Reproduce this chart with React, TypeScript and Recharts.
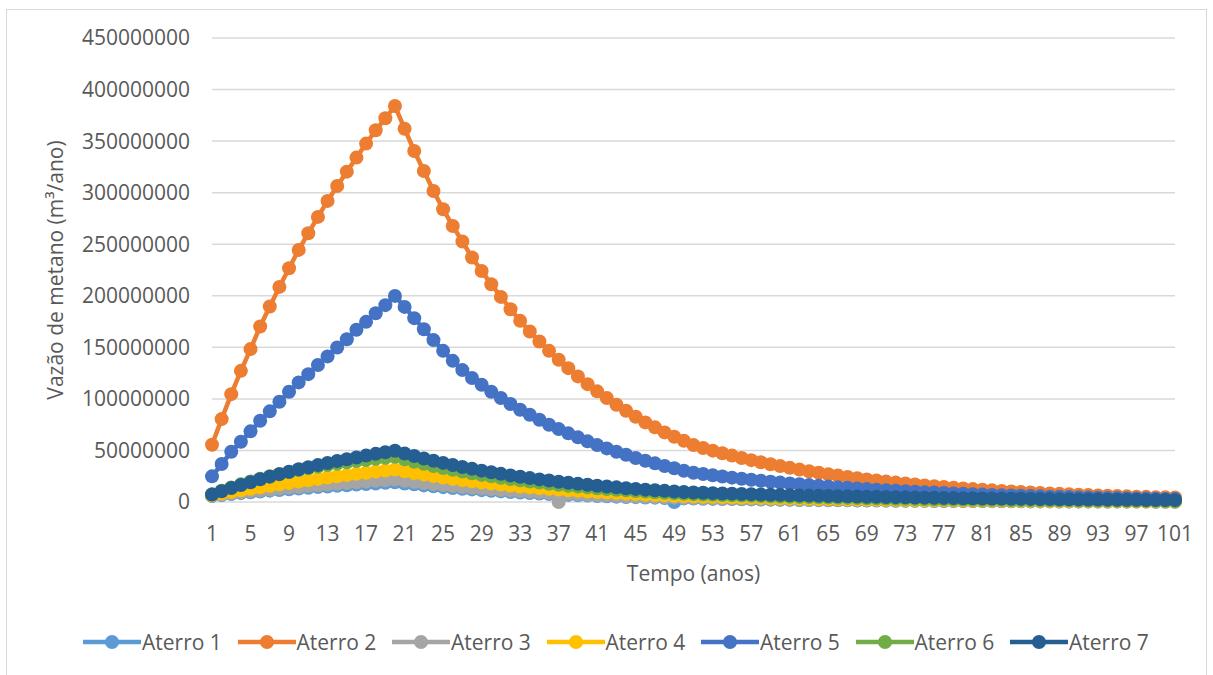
import React from 'react'
import { LineChart, Line, XAxis, YAxis, CartesianGrid, Legend } from 'recharts'

// Vazão de metano por aterro, valores em milhões de m³/ano
const anos = Array.from({ length: 101 }, (_, i) => i + 1)

const aterro1 = [
  5.8, 6.8, 7.7, 8.6, 9.4, 10.2, 11.0, 11.7, 12.4, 13.1,
  13.8, 14.5, 15.1, 15.7, 16.3, 16.9, 17.5, 18.0, 18.6, 19.1,
  18.0, 17.1, 16.1, 15.2, 14.4, 13.6, 12.9, 12.2, 11.5, 10.9,
  10.3, 9.7, 9.2, 8.7, 8.2, 7.7, 7.3, 6.9, 6.5, 6.2,
  5.8, 5.5, 5.2, 4.9, 4.7, 4.4, 4.2, 3.9, 0, 3.5,
  3.3, 3.2, 3.0, 2.9, 2.8, 2.6, 2.5, 2.4, 2.3, 2.2,
  2.1, 2.0, 1.9, 1.8, 1.7, 1.6, 1.6, 1.5, 1.4, 1.4,
  1.3, 1.2, 1.2, 1.1, 1.1, 1.0, 1.0, 0.9, 0.9, 0.9,
  0.8, 0.8, 0.7, 0.7, 0.7, 0.6, 0.6, 0.6, 0.5, 0.5,
  0.5, 0.5, 0.5, 0.4, 0.4, 0.4, 0.4, 0.4, 0.3, 0.3,
  0.3,
]

const aterro2 = [
  55.5, 80.4, 104.6, 127.2, 148.3, 170.2, 189.6, 208.6, 226.7, 244.5,
  260.7, 276.5, 292.0, 306.5, 320.4, 334.0, 347.6, 360.5, 372.1, 384.0,
  362.0, 340.4, 321.0, 301.6, 283.9, 267.7, 252.6, 237.1, 224.1, 211.2,
  198.9, 187.0, 175.7, 165.4, 155.7, 146.6, 137.9, 129.8, 121.8, 114.3,
  107.3, 100.8, 94.3, 88.5, 82.7, 77.2, 72.4, 67.5, 63.3, 59.4,
  55.2, 52.4, 49.8, 47.3, 45.0, 42.7, 40.6, 38.5, 36.6, 34.8,
  33.1, 31.4, 29.8, 28.3, 26.9, 25.6, 24.3, 23.1, 21.9, 20.8,
  19.8, 18.8, 17.9, 17.0, 16.1, 15.3, 14.6, 13.8, 13.1, 12.5,
  11.9, 11.3, 10.7, 10.2, 9.7, 9.2, 8.7, 8.3, 7.9, 7.5,
  7.1, 6.8, 6.4, 6.1, 5.8, 5.5, 5.2, 5.0, 4.7, 4.5,
  4.3,
]

const aterro3 = [
  6.2, 7.3, 8.3, 9.3, 10.3, 11.2, 12.1, 13.0, 13.8, 14.6,
  15.4, 16.2, 17.0, 17.7, 18.4, 19.1, 19.8, 20.5, 21.1, 21.7,
  20.5, 19.4, 18.3, 17.3, 16.4, 15.5, 14.6, 13.8, 13.1, 12.4,
  11.7, 11.0, 10.4, 9.9, 9.3, 8.8, 0, 7.9, 7.4, 7.0,
  6.6, 6.3, 5.9, 5.6, 5.3, 5.0, 4.7, 4.5, 4.2, 4.0,
  3.8, 3.6, 3.5, 3.3, 3.2, 3.0, 2.9, 2.7, 2.6, 2.5,
  2.4, 2.3, 2.2, 2.1, 2.0, 1.9, 1.8, 1.7, 1.6, 1.6,
  1.5, 1.4, 1.4, 1.3, 1.2, 1.2, 1.1, 1.1, 1.0, 1.0,
  0.9, 0.9, 0.9, 0.8, 0.8, 0.7, 0.7, 0.7, 0.6, 0.6,
  0.6, 0.6, 0.5, 0.5, 0.5, 0.5, 0.4, 0.4, 0.4, 0.4,
  0.4,
]

const aterro4 = [
  6.6, 8.2, 9.8, 11.3, 12.8, 14.3, 15.7, 17.1, 18.5, 19.8,
  21.1, 22.4, 23.7, 24.9, 26.1, 27.3, 28.4, 29.5, 30.5, 31.5,
  29.8, 28.1, 26.6, 25.1, 23.8, 22.5, 21.2, 20.1, 19.0, 17.9,
  16.9, 16.0, 15.1, 14.3, 13.5, 12.8, 12.1, 11.4, 10.8, 10.2,
  9.6, 9.1, 8.6, 8.1, 7.7, 7.2, 6.8, 6.5, 6.1, 5.8,
  5.5, 5.2, 5.0, 4.8, 4.6, 4.4, 4.2, 4.0, 3.8, 3.6,
  3.5, 3.3, 3.2, 3.0, 2.9, 2.8, 2.6, 2.5, 2.4, 2.3,
  2.2, 2.1, 2.0, 1.9, 1.8, 1.7, 1.7, 1.6, 1.5, 1.5,
  1.4, 1.3, 1.3, 1.2, 1.2, 1.1, 1.1, 1.0, 1.0, 0.9,
  0.9, 0.8, 0.8, 0.8, 0.7, 0.7, 0.7, 0.6, 0.6, 0.6,
  0.5,
]

const aterro5 = [
  24.9, 36.8, 48.7, 58.4, 68.5, 78.8, 87.9, 97.2, 106.9, 116.0,
  124.0, 132.8, 141.2, 149.9, 157.9, 167.0, 174.7, 183.1, 190.9, 199.9,
  189.2, 178.3, 167.6, 157.0, 146.6, 136.9, 127.9, 120.2, 113.7, 106.9,
  100.8, 95.0, 89.4, 84.6, 79.7, 74.9, 70.7, 66.6, 62.7, 58.8,
  55.2, 52.0, 48.7, 45.8, 42.6, 40.0, 37.5, 34.9, 32.7, 30.3,
  28.4, 27.1, 25.9, 24.8, 23.6, 22.6, 21.6, 20.6, 19.7, 18.8,
  18.0, 17.2, 16.4, 15.7, 15.0, 14.3, 13.7, 13.1, 12.5, 11.9,
  11.4, 10.9, 10.4, 9.9, 9.5, 9.1, 8.7, 8.3, 7.9, 7.6,
  7.2, 6.9, 6.6, 6.3, 6.0, 5.7, 5.5, 5.2, 5.0, 4.8,
  4.6, 4.4, 4.2, 4.0, 3.8, 3.6, 3.5, 3.3, 3.2, 3.0,
  2.9,
]

const aterro6 = [
  7.5, 10.9, 14.1, 17.1, 19.9, 22.5, 24.9, 27.1, 29.1, 31.0,
  32.7, 34.3, 35.8, 37.2, 38.5, 39.7, 40.8, 41.9, 42.9, 43.8,
  41.4, 39.1, 37.0, 34.9, 33.0, 31.2, 29.5, 27.9, 26.3, 24.9,
  23.5, 22.2, 21.0, 19.9, 18.8, 17.7, 16.8, 15.8, 15.0, 14.2,
  13.4, 12.6, 11.9, 11.3, 10.7, 10.1, 9.5, 9.0, 8.5, 8.0,
  7.6, 7.3, 7.0, 6.7, 6.5, 6.2, 6.0, 5.7, 5.5, 5.3,
  5.1, 4.9, 4.7, 4.5, 4.3, 4.1, 4.0, 3.8, 3.7, 3.5,
  3.4, 3.2, 3.1, 3.0, 2.9, 2.7, 2.6, 2.5, 2.4, 2.3,
  2.2, 2.1, 2.1, 2.0, 1.9, 1.8, 1.8, 1.7, 1.6, 1.6,
  1.5, 1.4, 1.4, 1.3, 1.3, 1.2, 1.2, 1.1, 1.1, 1.0,
  1.0,
]

const aterro7 = [
  7.2, 10.4, 13.5, 16.4, 19.2, 22.0, 24.6, 27.0, 29.3, 31.7,
  33.7, 35.8, 37.8, 39.7, 41.5, 43.2, 45.0, 46.7, 48.2, 49.7,
  47.1, 44.6, 42.2, 40.0, 37.9, 35.9, 34.0, 32.2, 30.4, 28.8,
  27.3, 25.8, 24.5, 23.2, 21.9, 20.8, 19.7, 18.6, 17.6, 16.7,
  15.8, 15.0, 14.2, 13.4, 12.7, 12.0, 11.4, 10.8, 10.2, 9.7,
  9.2, 8.9, 8.6, 8.3, 8.1, 7.8, 7.6, 7.3, 7.1, 6.9,
  6.6, 6.4, 6.2, 6.0, 5.8, 5.6, 5.5, 5.3, 5.1, 5.0,
  4.8, 4.7, 4.5, 4.4, 4.2, 4.1, 4.0, 3.8, 3.7, 3.6,
  3.5, 3.4, 3.3, 3.2, 3.1, 3.0, 2.9, 2.8, 2.7, 2.6,
  2.5, 2.4, 2.4, 2.3, 2.2, 2.1, 2.1, 2.0, 1.9, 1.9,
  1.8,
]

const yTicks = [0, 50000000, 100000000, 150000000, 200000000, 250000000, 300000000, 350000000, 400000000, 450000000]

const SERIES = [
  { key: 'a1', name: 'Aterro 1', color: '#5B9BD5', values: aterro1 },
  { key: 'a2', name: 'Aterro 2', color: '#ED7D31', values: aterro2 },
  { key: 'a3', name: 'Aterro 3', color: '#A5A5A5', values: aterro3 },
  { key: 'a4', name: 'Aterro 4', color: '#FFC000', values: aterro4 },
  { key: 'a5', name: 'Aterro 5', color: '#4472C4', values: aterro5 },
  { key: 'a6', name: 'Aterro 6', color: '#70AD47', values: aterro6 },
  { key: 'a7', name: 'Aterro 7', color: '#255E91', values: aterro7 },
]

const data = anos.map((t, i) => {
  const row: Record<string, number> = { t }
  for (const s of SERIES) row[s.key] = s.values[i] * 1e6
  return row
})

const FONT = '"Open Sans", sans-serif'
const TEXT = '#595959'
const DOT_R = 7

function renderLegend() {
  return (
    <div style={{ display: 'flex', paddingLeft: 83, fontFamily: FONT, fontSize: 21, color: TEXT, lineHeight: '28px' }}>
      {SERIES.map(s => (
        <div key={s.key} style={{ width: 154.5, display: 'flex', alignItems: 'center' }}>
          <svg width={58} height={16} style={{ marginRight: 1 }}>
            <line x1={0} x2={58} y1={8} y2={8} stroke={s.color} strokeWidth={4.5} />
            <circle cx={29} cy={8} r={DOT_R} fill={s.color} />
          </svg>
          <span>{s.name}</span>
        </div>
      ))}
    </div>
  )
}

export default function App() {
  return (
    <div style={{ position: 'absolute', left: 0, top: 0, width: 1213, height: 675, overflow: 'hidden', background: '#fff' }}>
      <div style={{ position: 'absolute', left: 6, top: 9, width: 1201, height: 700, border: '1px solid #d9d9d9', boxSizing: 'border-box' }} />
      <LineChart
        width={1213}
        height={675}
        data={data}
        margin={{ top: 38, right: 38, left: 0, bottom: 83 }}
        style={{ fontFamily: FONT }}
      >
        <CartesianGrid vertical={false} stroke="#d9d9d9" strokeWidth={1.5} />
        <XAxis
          dataKey="t"
          type="category"
          interval={3}
          height={90}
          axisLine={false}
          tickLine={false}
          tickSize={0}
          tickMargin={24}
          tick={{ fontSize: 21, fill: TEXT }}
          label={{ value: 'Tempo (anos)', position: 'insideBottom', offset: 11, fontSize: 21, fill: TEXT }}
        />
        <YAxis
          width={212}
          domain={[0, 450000000]}
          ticks={yTicks}
          interval={0}
          axisLine={false}
          tickLine={false}
          tickSize={0}
          tickMargin={22}
          tick={{ fontSize: 21, fill: TEXT }}
          label={{
            value: 'Vazão de metano (m³/ano)',
            angle: -90,
            position: 'insideLeft',
            offset: 56,
            fontSize: 21,
            fill: TEXT,
            style: { textAnchor: 'middle' },
          }}
        />
        <Legend
          layout="horizontal"
          verticalAlign="middle"
          align="center"
          content={renderLegend}
          wrapperStyle={{ top: 628, left: 0, width: 1213 }}
        />
        {SERIES.map(s => (
          <Line
            key={s.key}
            type="linear"
            dataKey={s.key}
            name={s.name}
            stroke={s.color}
            strokeWidth={4.5}
            dot={{ r: DOT_R, fill: s.color, stroke: s.color, strokeWidth: 0 }}
            activeDot={false}
            isAnimationActive={false}
          />
        ))}
      </LineChart>
    </div>
  )
}
